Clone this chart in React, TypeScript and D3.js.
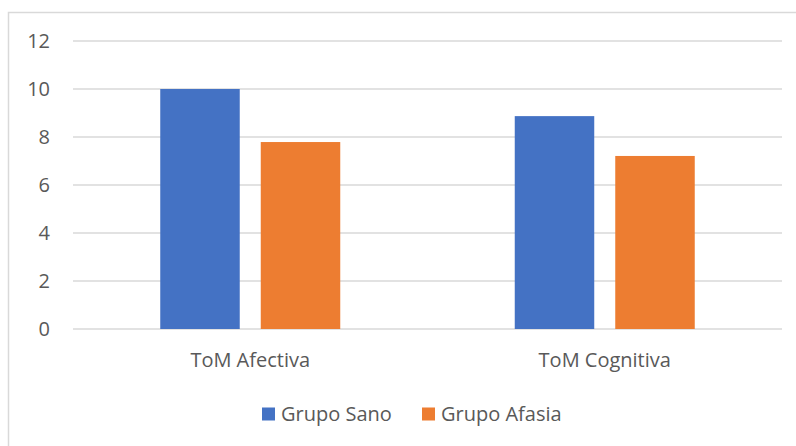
import React from "react";
import * as d3 from "d3";

const categories = ["ToM Afectiva", "ToM Cognitiva"];
const seriesNames = ["Grupo Sano", "Grupo Afasia"];
const grupoSano = [10.0, 8.87];
const grupoAfasia = [7.79, 7.21];
const yTicks = [0, 2, 4, 6, 8, 10, 12];
const colors = ["#4472C4", "#ED7D31"];

const W = 796;
const H = 446;
const plotLeft = 73;
const plotRight = 782;
const plotTop = 41;
const plotBottom = 329;
const FONT = "'Open Sans', sans-serif";
const TEXT = "#595959";

export default function App() {
  const values = [grupoSano, grupoAfasia];
  const y = d3.scaleLinear().domain([0, 12]).range([plotBottom, plotTop]);
  const x0 = d3.scaleBand<string>().domain(categories).range([plotLeft, plotRight]);
  const groupW = 180;
  const x1 = d3
    .scaleBand<string>()
    .domain(seriesNames)
    .range([0, groupW])
    .paddingInner(0.209)
    .paddingOuter(0);
  const offset = (x0.bandwidth() - groupW) / 2;

  return (
    <svg
      width={W}
      height={H}
      style={{ position: "absolute", left: 0, top: 0, background: "#fff" }}
    >
      <rect x={0} y={0} width={W} height={H} fill="#fff" />
      <rect
        x={8.5}
        y={12.5}
        width={W + 20}
        height={H + 20}
        fill="none"
        stroke="#d9d9d9"
        strokeWidth={1.5}
      />
      {yTicks.map((t) => (
        <g key={t}>
          <line
            x1={plotLeft}
            x2={plotRight}
            y1={y(t)}
            y2={y(t)}
            stroke="#d9d9d9"
            strokeWidth={1.5}
          />
          <text
            x={50}
            y={y(t)}
            dy="0.36em"
            textAnchor="end"
            fontFamily={FONT}
            fontSize={20}
            fill={TEXT}
          >
            {t}
          </text>
        </g>
      ))}
      {categories.map((c, ci) =>
        seriesNames.map((s, si) => {
          const v = values[si][ci];
          const bx = (x0(c) as number) + offset + (x1(s) as number);
          return (
            <rect
              key={c + s}
              x={bx}
              y={y(v)}
              width={x1.bandwidth()}
              height={y(0) - y(v)}
              fill={colors[si]}
            />
          );
        })
      )}
      {categories.map((c) => (
        <text
          key={c}
          x={(x0(c) as number) + x0.bandwidth() / 2}
          y={366.5}
          textAnchor="middle"
          fontFamily={FONT}
          fontSize={20}
          fill={TEXT}
        >
          {c}
        </text>
      ))}
      {seriesNames.map((s, si) => {
        const lx = [262, 422][si];
        return (
          <g key={s}>
            <rect x={lx} y={407.5} width={13} height={13} fill={colors[si]} />
            <text
              x={lx + 19}
              y={420.5}
              fontFamily={FONT}
              fontSize={20}
              fill={TEXT}
            >
              {s}
            </text>
          </g>
        );
      })}
    </svg>
  );
}
